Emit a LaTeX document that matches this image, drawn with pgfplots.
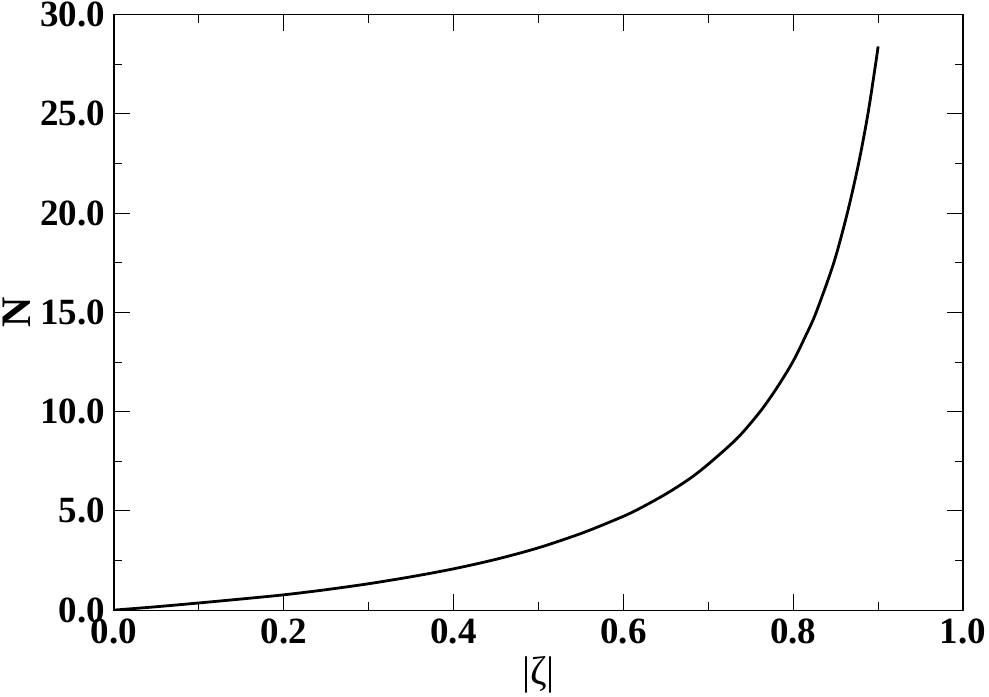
\documentclass[border=0pt]{standalone}
\usepackage{fontspec}
\setmainfont{Liberation Serif}
\usepackage{pgfplots}
\pgfplotsset{compat=1.18}
\begin{document}
\begin{tikzpicture}
\begin{axis}[
  scale only axis,
  width=424.5pt, height=297.7pt,
  xmin=0, xmax=1, ymin=0, ymax=30,
  xtick={0,0.2,...,1.0}, ytick={0,5,...,30},
  minor x tick num=1, minor y tick num=1,
  tick align=inside,
  major tick length=8pt, minor tick length=4pt,
  every tick/.style={black, line width=0.5pt},
  axis line style={line width=0.6pt},
  tick pos=both,
  /pgf/number format/assume math mode=true,
  /pgf/number format/fixed,
  /pgf/number format/fixed zerofill,
  /pgf/number format/precision=1,
  ticklabel style={font=\fontsize{18.5}{20}\selectfont\bfseries},
  xticklabel style={yshift=-1pt},
  yticklabel style={xshift=-1pt},
  xlabel={|ζ|}, ylabel={\textbf{N}},
  xlabel style={font=\fontsize{20}{22}\selectfont, yshift=1pt},
  ylabel style={font=\fontsize{21}{22}\selectfont, yshift=-2pt},
]
\addplot[black, line width=1.4pt, smooth] coordinates {
(0,0) (0.05,0.17) (0.1,0.36) (0.15,0.56) (0.2,0.77) (0.25,1.03) (0.3,1.33)
(0.35,1.68) (0.4,2.08) (0.45,2.56) (0.5,3.14) (0.55,3.86) (0.5875,4.5)
(0.6137,5.0) (0.65,5.85) (0.68,6.68) (0.704,7.5) (0.735,8.7) (0.761,10.0)
(0.78,11.15) (0.7994,12.5) (0.815,13.85) (0.827,15.0) (0.8478,17.5)
(0.8637,20.0) (0.877,22.5) (0.888,25.0) (0.897,27.5) (0.9,28.4)
};
\end{axis}
\pgfresetboundingbox
\path[use as bounding box] ([shift={(-57pt,-43pt)}]current axis.south west) rectangle ([shift={(13pt,7.35pt)}]current axis.north east);
\end{tikzpicture}
\end{document}
